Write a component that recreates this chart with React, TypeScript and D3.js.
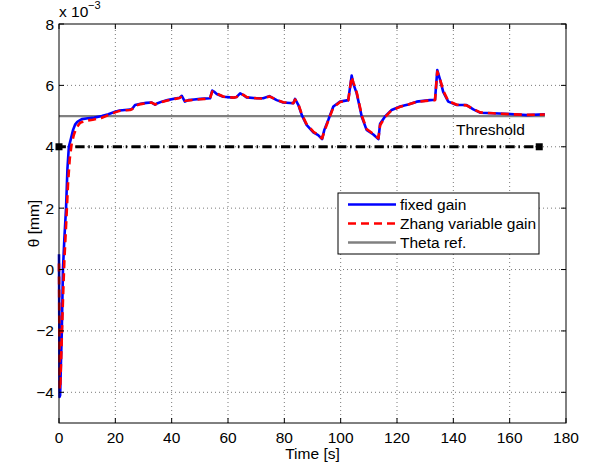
import React from "react";
import * as d3 from "d3";

// ---- data ----
const blueT = [0, 0.2, 0.4, 0.7, 1.0, 1.4, 1.9, 2.5, 3.0, 3.5, 4.2, 5.0, 5.7, 6.5, 8.1, 10.3, 12.5, 15.2, 17.5, 19.9, 21.5, 23.4, 25.2, 26.0, 27.0, 29.0, 31.0, 32.9, 34.1, 35.0, 36.5, 38.5, 41.2, 42.8, 43.6, 44.7, 45.9, 48.0, 50.1, 53.6, 54.4, 55.0, 56.0, 58.3, 61.9, 63.0, 64.3, 65.5, 66.6, 70.2, 72.5, 74.7, 77.3, 79.6, 83.2, 83.8, 85.0, 86.2, 87.9, 90.3, 92.0, 93.4, 94.2, 95.6, 97.4, 99.8, 102.7, 103.9, 104.5, 105.7, 107.5, 109.2, 111.6, 113.4, 114.0, 115.7, 118.1, 121.1, 124.0, 127.0, 131.7, 133.5, 134.3, 135.3, 136.4, 138.2, 141.2, 144.7, 147.1, 149.5, 154.2, 160.1, 166.0, 172.5];
const blueV = [0.5, -4.15, -4.1, -3.0, -2.0, 0.0, 1.0, 2.0, 3.3, 4.0, 4.25, 4.55, 4.72, 4.81, 4.9, 4.93, 4.95, 5.0, 5.06, 5.14, 5.18, 5.2, 5.21, 5.24, 5.36, 5.4, 5.43, 5.44, 5.37, 5.42, 5.47, 5.52, 5.57, 5.6, 5.66, 5.47, 5.52, 5.54, 5.56, 5.58, 5.83, 5.8, 5.72, 5.63, 5.6, 5.62, 5.74, 5.68, 5.61, 5.58, 5.58, 5.65, 5.52, 5.44, 5.42, 5.56, 5.36, 5.03, 4.71, 4.47, 4.38, 4.25, 4.55, 4.87, 5.31, 5.47, 5.52, 6.32, 6.05, 5.74, 4.98, 4.55, 4.4, 4.25, 4.75, 4.98, 5.2, 5.31, 5.38, 5.47, 5.52, 5.53, 6.5, 6.18, 5.79, 5.47, 5.36, 5.36, 5.22, 5.11, 5.09, 5.07, 5.03, 5.06];

const redT = [0, 0.25, 0.5, 0.9, 1.4, 1.9, 2.6, 3.2, 3.8, 4.5, 5.3, 6.2, 7.5, 9.5, 12.0, 15.0, 17.5, 19.9, 21.5, 23.4, 25.2, 26.0, 27.0, 29.0, 31.0, 32.9, 34.1, 35.0, 36.5, 38.5, 41.2, 42.8, 43.6, 44.7, 45.9, 48.0, 50.1, 53.6, 54.4, 55.0, 56.0, 58.3, 61.9, 63.0, 64.3, 65.5, 66.6, 70.2, 72.5, 74.7, 77.3, 79.6, 83.2, 83.8, 85.0, 86.2, 87.9, 90.3, 92.0, 93.4, 94.2, 95.6, 97.4, 99.8, 102.7, 103.9, 104.5, 105.7, 107.5, 109.2, 111.6, 113.4, 114.0, 115.7, 118.1, 121.1, 124.0, 127.0, 131.7, 133.5, 134.3, 135.3, 136.4, 138.2, 141.2, 144.7, 147.1, 149.5, 154.2, 160.1, 166.0, 172.5];
const redV = [0.2, -3.9, -3.7, -2.5, -1.0, 0.3, 1.6, 2.8, 3.6, 4.1, 4.4, 4.62, 4.78, 4.85, 4.88, 4.94, 5.03, 5.12, 5.17, 5.19, 5.2, 5.23, 5.33, 5.39, 5.42, 5.44, 5.38, 5.41, 5.46, 5.51, 5.56, 5.59, 5.64, 5.5, 5.51, 5.53, 5.55, 5.57, 5.8, 5.79, 5.73, 5.64, 5.6, 5.62, 5.72, 5.69, 5.62, 5.58, 5.57, 5.64, 5.53, 5.45, 5.42, 5.54, 5.38, 5.06, 4.74, 4.49, 4.39, 4.27, 4.5, 4.85, 5.28, 5.46, 5.51, 6.28, 6.1, 5.77, 5.02, 4.58, 4.42, 4.28, 4.7, 4.96, 5.19, 5.3, 5.38, 5.46, 5.51, 5.52, 6.45, 6.2, 5.83, 5.49, 5.37, 5.35, 5.23, 5.12, 5.09, 5.06, 5.04, 5.05];

const refT = [0, 172.5];
const refV = [5, 5];
const thrT = [0, 170.5];
const thrV = [4, 4];

const xTicks = [0, 20, 40, 60, 80, 100, 120, 140, 160, 180];
const yTicks = [-4, -2, 0, 2, 4, 6, 8];
const legendLabels = ["fixed gain", "Zhang variable gain", "Theta ref."];

const W = 590, H = 468;
const L = 59, R = 566, T = 24, B = 423;
const FONT = "'Liberation Sans', Arial, Helvetica, sans-serif";
const FS = 15.5;

export default function App() {
  const x = d3.scaleLinear().domain([0, 180]).range([L, R]);
  const y = d3.scaleLinear().domain([-5, 8]).range([B, T]);
  const line = d3.line<[number, number]>().x(d => x(d[0])).y(d => y(d[1]));
  const zip = (a: number[], b: number[]) => a.map((t, i) => [t, b[i]] as [number, number]);

  const tickLen = 5;
  const legendX = 338, legendY = 193, legendW = 201, legendH = 61;
  const rows = [204.5, 223.5, 242.5];
  const styles = [
    { stroke: "#0000ff", dash: undefined as string | undefined },
    { stroke: "#ff0000", dash: "8,5" },
    { stroke: "#808080", dash: undefined },
  ];

  return (
    <svg width={W} height={H} style={{ position: "absolute", left: 0, top: 0, background: "#fff" }} fontFamily={FONT}>
      <rect x={0} y={0} width={W} height={H} fill="#fff" />
      <rect x={L} y={T} width={R - L} height={B - T} fill="#fff" />
      {/* grid */}
      <g stroke="#000" strokeWidth={0.7} strokeDasharray="1,3" opacity={0.75}>
        {xTicks.filter(t => t > 0 && t < 180).map(t => (
          <line key={"gx" + t} x1={x(t)} x2={x(t)} y1={B} y2={T} />
        ))}
        {yTicks.filter(t => t < 8).map(t => (
          <line key={"gy" + t} x1={L} x2={R} y1={y(t)} y2={y(t)} />
        ))}
      </g>
      {/* theta ref */}
      <path d={line(zip(refT, refV)) || ""} fill="none" stroke="#808080" strokeWidth={2.4} />
      {/* threshold dash-dot */}
      <path d={line(zip(thrT, thrV)) || ""} fill="none" stroke="#000" strokeWidth={3}
        strokeDasharray="9.3,3.7,1.5,4.2" strokeDashoffset={2.4} />
      {thrT.map((t, i) => (
        <rect key={"m" + i} x={x(t) - 3.5} y={y(thrV[i]) - 3.5} width={7} height={7} fill="#000" />
      ))}
      {/* series */}
      <path d={line(zip(blueT, blueV)) || ""} fill="none" stroke="#0000ff" strokeWidth={2.6} strokeLinejoin="round" />
      <path d={line(zip(redT, redV)) || ""} fill="none" stroke="#ff0000" strokeWidth={2.6} strokeDasharray="8,5" strokeLinejoin="round" />
      {/* threshold label */}
      <text x={456} y={135} fontSize={FS} fill="#000">Threshold</text>
      {/* axes box */}
      <rect x={L} y={T} width={R - L} height={B - T} fill="none" stroke="#000" strokeWidth={1} />
      {/* ticks */}
      <g stroke="#000" strokeWidth={1}>
        {xTicks.map(t => (
          <g key={"tx" + t}>
            <line x1={x(t)} x2={x(t)} y1={B} y2={B - tickLen} />
            <line x1={x(t)} x2={x(t)} y1={T} y2={T + tickLen} />
          </g>
        ))}
        {yTicks.map(t => (
          <g key={"ty" + t}>
            <line x1={L} x2={L + tickLen} y1={y(t)} y2={y(t)} />
            <line x1={R} x2={R - tickLen} y1={y(t)} y2={y(t)} />
          </g>
        ))}
      </g>
      {/* tick labels */}
      <g fontSize={FS} fill="#000">
        {xTicks.map(t => (
          <text key={"lx" + t} x={x(t)} y={B + 20} textAnchor="middle">{String(t)}</text>
        ))}
        {yTicks.map(t => (
          <text key={"ly" + t} x={L - 5} y={y(t) + 5.5} textAnchor="end">{t < 0 ? "\u2212" + Math.abs(t) : String(t)}</text>
        ))}
      </g>
      {/* exponent */}
      <text x={59} y={17} fontSize={FS} fill="#000">x 10</text>
      <text x={88} y={9} fontSize={11} fill="#000">{"\u22123"}</text>
      {/* axis labels */}
      <text x={(L + R) / 2} y={459} fontSize={FS} textAnchor="middle" fill="#000">Time [s]</text>
      <text transform={`translate(39, ${(T + B) / 2}) rotate(-90)`} fontSize={FS} textAnchor="middle" fill="#000">θ [mm]</text>
      {/* legend */}
      <rect x={legendX} y={legendY} width={legendW} height={legendH} fill="#fff" stroke="#000" strokeWidth={1} />
      {legendLabels.map((lab, i) => (
        <g key={lab}>
          <line x1={348} x2={396} y1={rows[i]} y2={rows[i]} stroke={styles[i].stroke} strokeWidth={2.6} strokeDasharray={styles[i].dash} />
          <text x={400} y={rows[i] + 5.5} fontSize={FS} fill="#000">{lab}</text>
        </g>
      ))}
    </svg>
  );
}
